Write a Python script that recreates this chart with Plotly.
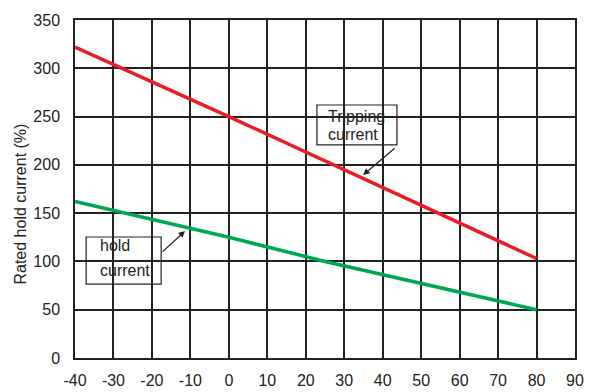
import plotly.graph_objects as go

temps_trip = [-40, 0, 80]
trip_vals = [322, 250, 103]
temps_hold = [-40, 0, 25, 80]
hold_vals = [162, 125, 100, 50]
x_ticks = list(range(-40, 91, 10))
x_labels = [str(v) for v in x_ticks]
y_ticks = list(range(0, 351, 50))
y_labels = [str(v) for v in y_ticks]

fig = go.Figure()
fig.add_trace(go.Scatter(x=temps_trip, y=trip_vals, mode="lines",
                         line=dict(color="#ec1c24", width=3.5), showlegend=False))
fig.add_trace(go.Scatter(x=temps_hold, y=hold_vals, mode="lines",
                         line=dict(color="#00a651", width=3.5), showlegend=False))

font_tick = dict(family="Arial", size=16, color="#222222")
axis_common = dict(showgrid=True, gridcolor="#222222", gridwidth=1.5,
                   showline=True, linecolor="#222222", linewidth=1.5, mirror=True,
                   zeroline=False, ticks="", tickfont=font_tick, automargin=False)

fig.update_xaxes(range=[-40, 90], tickvals=x_ticks, ticktext=x_labels, ticklabelstandoff=7, **axis_common)
fig.update_yaxes(range=[0, 350], tickvals=y_ticks, ticktext=y_labels, ticklabelstandoff=10, **axis_common)

fig.add_annotation(xref="paper", yref="paper", x=-0.108, y=0.454, xanchor="center", yanchor="middle",
                   text="Rated hold current (%)", textangle=-90, showarrow=False,
                   font=dict(family="Arial", size=16, color="#222222"))

# annotation boxes
fig.add_shape(type="rect", x0=22.9, x1=43.7, y0=220.6, y1=262, line=dict(color="#222222", width=1.2))
fig.add_shape(type="rect", x0=-37.1, x1=-17.6, y0=76.6, y1=125.3, line=dict(color="#222222", width=1.2))

lab_font = dict(family="Arial", size=16, color="#222222")
fig.add_annotation(x=25.3, y=249.6, text="Tripping", showarrow=False, xanchor="left", font=lab_font)
fig.add_annotation(x=25.3, y=231, text="current", showarrow=False, xanchor="left", font=lab_font)
fig.add_annotation(x=-34.0, y=116, text="hold", showarrow=False, xanchor="left", font=lab_font)
fig.add_annotation(x=-34.0, y=91, text="current", showarrow=False, xanchor="left", font=lab_font)

# arrows
fig.add_annotation(x=34.9, y=189.5, ax=43.5, ay=218.5, axref="x", ayref="y", text="",
                   showarrow=True, arrowhead=2, arrowsize=1, arrowwidth=1.3, arrowcolor="#222222")
fig.add_annotation(x=-11.4, y=131.5, ax=-17.6, ay=108.7, axref="x", ayref="y", text="",
                   showarrow=True, arrowhead=2, arrowsize=1, arrowwidth=1.3, arrowcolor="#222222")

fig.update_layout(width=592, height=384, margin=dict(l=67, r=25, t=12, b=34),
                  plot_bgcolor="white", paper_bgcolor="white")
fig.write_html("out.html")
